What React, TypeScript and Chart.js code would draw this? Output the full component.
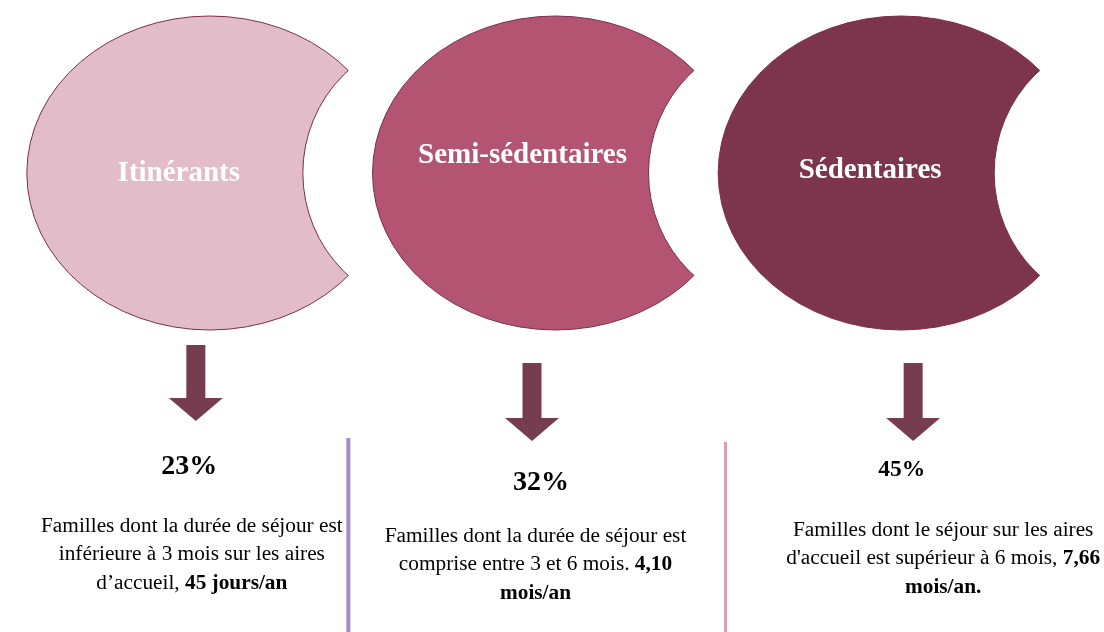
import React, { useEffect, useRef } from "react";
import { Chart, registerables } from "chart.js";

Chart.register(...registerables);

// ---------- data ----------
const categories = ["Itinérants", "Semi-sédentaires", "Sédentaires"];
const percentages = [23, 32, 45];
const percentLabels = percentages.map((p) => `${p}%`);

type Seg = { t: string; b?: boolean };
const descriptions: Seg[][][] = [
  [
    [{ t: "Familles dont la durée de séjour est" }],
    [{ t: "inférieure à 3 mois sur les aires" }],
    [{ t: "d’accueil, " }, { t: "45 jours/an", b: true }],
  ],
  [
    [{ t: "Familles dont la durée de séjour est" }],
    [{ t: "comprise entre 3 et 6 mois. " }, { t: "4,10", b: true }],
    [{ t: "mois/an", b: true }],
  ],
  [
    [{ t: "Familles dont le séjour sur les aires" }],
    [{ t: "d'accueil est supérieur à 6 mois, " }, { t: "7,66", b: true }],
    [{ t: "mois/an.", b: true }],
  ],
];

// ---------- styles ----------
const shapeColors = ["#e2bcc8", "#b35473", "#7d344d"];
const shapeStroke = "#7b2f4b";
const arrowColor = "#763d50";
const separatorColors = ["#a58bc6", "#d9a0b4"];
const FONT = '"Liberation Serif", "Times New Roman", serif';

// layout (canvas px, relative to each column centre)
const layout = {
  shape: { cy: 173, rx: 183, ry: 157, biteDx: 231.6, biteR: 138.6 },
  labelDx: [-31, -33, -31],
  labelY: [174, 156, 171],
  labelSize: 29,
  arrowDx: [-14, -23.5, 12],
  arrowTop: [345, 363, 363],
  arrowHead: [398, 418, 418],
  arrowTip: [421, 441, 441],
  shaftW: 19,
  headW: 54,
  pctDx: [-20.5, -14.5, 0.5],
  pctY: [467, 483, 470],
  pctSize: [28, 28, 23.5],
  descDx: [-18, -20, 42],
  descY: [526, 536, 530],
  descLine: 28.5,
  descSize: 21.3,
  sepDx: [138.5, 170],
  sepTop: [438, 442],
  sepW: [4, 3],
};

const infographic = {
  id: "infographic",
  afterDatasetsDraw(chart: any) {
    const ctx: CanvasRenderingContext2D = chart.ctx;
    const xs = chart.scales.x;
    const W = chart.width;
    const H = chart.height;
    const s = layout.shape;

    categories.forEach((cat, i) => {
      const cx = xs.getPixelForValue(i);
      const bx = cx + s.biteDx;

      // crescent shape
      ctx.save();
      ctx.beginPath();
      ctx.rect(0, 0, W, H);
      ctx.moveTo(bx + s.biteR, s.cy);
      ctx.arc(bx, s.cy, s.biteR, 0, Math.PI * 2, true);
      ctx.clip("evenodd");
      ctx.beginPath();
      ctx.ellipse(cx, s.cy, s.rx, s.ry, 0, 0, Math.PI * 2);
      ctx.fillStyle = shapeColors[i];
      ctx.fill();
      ctx.lineWidth = 1;
      ctx.strokeStyle = shapeStroke;
      ctx.stroke();
      ctx.restore();

      ctx.save();
      ctx.beginPath();
      ctx.ellipse(cx, s.cy, s.rx, s.ry, 0, 0, Math.PI * 2);
      ctx.clip();
      ctx.beginPath();
      ctx.arc(bx, s.cy, s.biteR, 0, Math.PI * 2);
      ctx.lineWidth = 1;
      ctx.strokeStyle = shapeStroke;
      ctx.stroke();
      ctx.restore();

      // label
      ctx.save();
      ctx.fillStyle = "#ffffff";
      ctx.font = `bold ${layout.labelSize}px ${FONT}`;
      ctx.textAlign = "center";
      ctx.textBaseline = "middle";
      ctx.fillText(cat, cx + layout.labelDx[i], layout.labelY[i]);
      ctx.restore();

      // arrow
      const ax = cx + layout.arrowDx[i];
      ctx.save();
      ctx.beginPath();
      ctx.moveTo(ax - layout.shaftW / 2, layout.arrowTop[i]);
      ctx.lineTo(ax + layout.shaftW / 2, layout.arrowTop[i]);
      ctx.lineTo(ax + layout.shaftW / 2, layout.arrowHead[i]);
      ctx.lineTo(ax + layout.headW / 2, layout.arrowHead[i]);
      ctx.lineTo(ax, layout.arrowTip[i]);
      ctx.lineTo(ax - layout.headW / 2, layout.arrowHead[i]);
      ctx.lineTo(ax - layout.shaftW / 2, layout.arrowHead[i]);
      ctx.closePath();
      ctx.fillStyle = arrowColor;
      ctx.fill();
      ctx.restore();

      // percentage
      ctx.save();
      ctx.fillStyle = "#000000";
      ctx.font = `bold ${layout.pctSize[i]}px ${FONT}`;
      ctx.textAlign = "center";
      ctx.textBaseline = "middle";
      ctx.fillText(percentLabels[i], cx + layout.pctDx[i], layout.pctY[i]);
      ctx.restore();

      // description
      ctx.save();
      ctx.fillStyle = "#000000";
      ctx.textAlign = "left";
      ctx.textBaseline = "middle";
      const dcx = cx + layout.descDx[i];
      descriptions[i].forEach((line, li) => {
        let total = 0;
        const widths = line.map((seg) => {
          ctx.font = `${seg.b ? "bold " : ""}${layout.descSize}px ${FONT}`;
          const w = ctx.measureText(seg.t).width;
          total += w;
          return w;
        });
        let x = dcx - total / 2;
        const y = layout.descY[i] + li * layout.descLine;
        line.forEach((seg, si) => {
          ctx.font = `${seg.b ? "bold " : ""}${layout.descSize}px ${FONT}`;
          ctx.fillText(seg.t, x, y);
          x += widths[si];
        });
      });
      ctx.restore();

      // separators
      if (i < separatorColors.length) {
        ctx.save();
        ctx.fillStyle = separatorColors[i];
        const sx = cx + layout.sepDx[i];
        ctx.fillRect(sx - layout.sepW[i] / 2, layout.sepTop[i], layout.sepW[i], H - layout.sepTop[i]);
        ctx.restore();
      }
    });
  },
};

export default function App() {
  const ref = useRef<HTMLCanvasElement | null>(null);
  useEffect(() => {
    if (!ref.current) return;
    const chart = new Chart(ref.current, {
      type: "bar",
      data: {
        labels: categories,
        datasets: [
          {
            label: "Part des familles (%)",
            data: percentages,
            backgroundColor: "rgba(0,0,0,0)",
            borderWidth: 0,
          },
        ],
      },
      options: {
        responsive: false,
        animation: false,
        layout: { padding: { left: 37, right: 30, top: 0, bottom: 0 } },
        plugins: { legend: { display: false }, tooltip: { enabled: false }, title: { display: false } },
        scales: {
          x: { display: false, offset: true },
          y: { display: false, min: 0, max: 100 },
        },
      },
      plugins: [infographic],
    });
    return () => chart.destroy();
  }, []);
  return (
    <canvas
      ref={ref}
      width={1104}
      height={632}
      style={{ display: "block", position: "absolute", left: 0, top: 0 }}
    />
  );
}
